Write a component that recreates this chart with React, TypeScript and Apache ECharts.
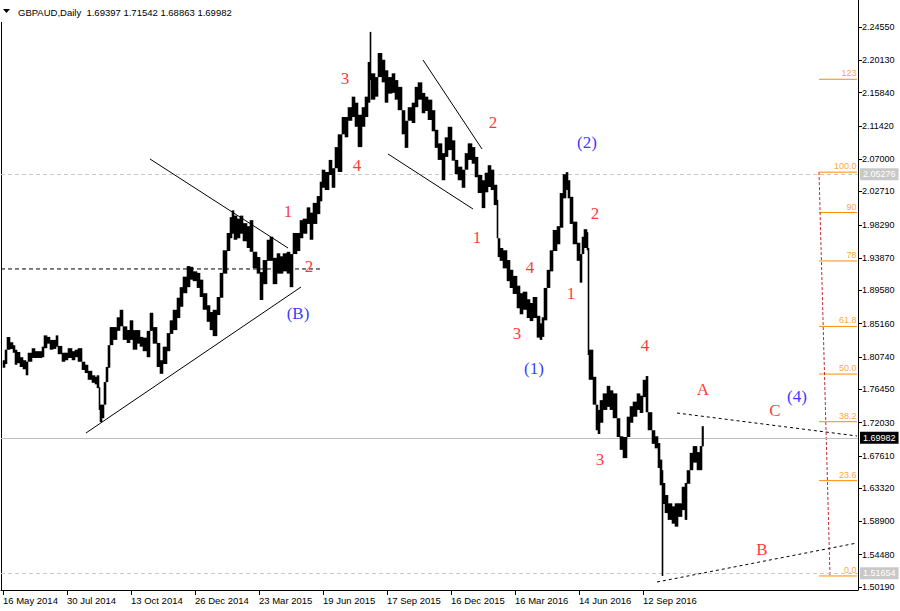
import React, { useEffect, useRef } from 'react';
import * as echarts from 'echarts';

// ---- header ----
const symbolTitle = 'GBPAUD,Daily';
const lastBarOHLC = [1.69397, 1.71542, 1.68863, 1.69982];

// ---- axes ----
const priceTicks = [2.2455, 2.2013, 2.1584, 2.1142, 2.07, 2.0271, 1.9829, 1.9387, 1.8958, 1.8516,
  1.8074, 1.7645, 1.7203, 1.6761, 1.6332, 1.589, 1.5448, 1.5019];
const dateTickIdx = [3, 67, 131, 195, 259, 323, 387, 451, 515, 579, 643];
const dateLabels = ['16 May 2014', '30 Jul 2014', '13 Oct 2014', '26 Dec 2014', '23 Mar 2015', '19 Jun 2015',
  '17 Sep 2015', '16 Dec 2015', '16 Mar 2016', '14 Jun 2016', '12 Sep 2016'];
const priceMin = 1.49789;
const priceMax = 2.28135;
const barIdxMin = 1;
const barIdxMax = 858;

// ---- price path: [bar index, high, low] ----
const priceBars: number[][] = [
  [3, 1.803, 1.793], [5, 1.814, 1.798], [7, 1.834, 1.817], [10, 1.827, 1.818], [13, 1.823, 1.813],
  [15, 1.817, 1.797], [17, 1.814, 1.799], [20, 1.807, 1.794], [23, 1.803, 1.791], [26, 1.798, 1.783],
  [28, 1.813, 1.801], [32, 1.819, 1.806], [35, 1.815, 1.806], [38, 1.815, 1.806], [42, 1.821, 1.807],
  [44, 1.836, 1.819], [47, 1.834, 1.825], [50, 1.830, 1.817], [53, 1.830, 1.818], [56, 1.836, 1.821],
  [58, 1.822, 1.811], [62, 1.813, 1.801], [65, 1.813, 1.803], [68, 1.819, 1.806], [72, 1.815, 1.803],
  [75, 1.817, 1.807], [78, 1.819, 1.807], [82, 1.801, 1.790], [85, 1.797, 1.786], [88, 1.789, 1.777],
  [92, 1.783, 1.773], [95, 1.781, 1.771], [97, 1.783, 1.766], [99, 1.767, 1.737], [100, 1.744, 1.721],
  [102, 1.744, 1.726], [104, 1.767, 1.744], [106, 1.794, 1.774], [108, 1.821, 1.793], [110, 1.847, 1.823],
  [113, 1.847, 1.830], [117, 1.860, 1.842], [120, 1.870, 1.851], [123, 1.848, 1.830], [127, 1.843, 1.826],
  [130, 1.856, 1.830], [133, 1.843, 1.817], [137, 1.843, 1.825], [140, 1.834, 1.821], [143, 1.833, 1.815],
  [147, 1.826, 1.807], [150, 1.866, 1.842], [153, 1.847, 1.825], [157, 1.826, 1.794], [160, 1.803, 1.785],
  [163, 1.821, 1.798], [167, 1.839, 1.815], [170, 1.856, 1.838], [173, 1.870, 1.843], [177, 1.886, 1.859],
  [180, 1.900, 1.874], [183, 1.914, 1.892], [187, 1.928, 1.900], [190, 1.927, 1.910], [193, 1.921, 1.908],
  [197, 1.919, 1.899], [200, 1.910, 1.887], [203, 1.892, 1.870], [207, 1.876, 1.854], [210, 1.867, 1.843],
  [213, 1.870, 1.835], [217, 1.887, 1.863], [220, 1.919, 1.886], [223, 1.949, 1.918], [227, 1.972, 1.948],
  [230, 1.993, 1.965], [232, 2.002, 1.971], [234, 1.995, 1.963], [237, 1.991, 1.965], [240, 1.995, 1.971],
  [243, 1.985, 1.961], [247, 1.981, 1.952], [250, 1.989, 1.948], [253, 1.947, 1.925], [257, 1.940, 1.918],
  [260, 1.920, 1.883], [263, 1.936, 1.904], [267, 1.963, 1.935], [270, 1.967, 1.935], [273, 1.939, 1.904],
  [277, 1.945, 1.918], [280, 1.941, 1.918], [283, 1.945, 1.921], [287, 1.947, 1.918], [290, 1.939, 1.900],
  [293, 1.972, 1.944], [297, 1.972, 1.948], [300, 1.989, 1.965], [303, 1.991, 1.971], [307, 2.006, 1.984],
  [310, 1.999, 1.963], [313, 2.012, 1.984], [317, 2.021, 1.997], [320, 2.040, 2.014], [322, 2.056, 2.032],
  [325, 2.053, 2.029], [329, 2.069, 2.049], [332, 2.056, 2.032], [335, 2.086, 2.058], [338, 2.082, 2.053],
  [342, 2.126, 2.103], [345, 2.126, 2.099], [348, 2.139, 2.121], [352, 2.153, 2.126], [355, 2.145, 2.113],
  [358, 2.129, 2.086], [362, 2.139, 2.113], [365, 2.153, 2.126], [368, 2.199, 2.145], [370, 2.239, 2.175],
  [371, 2.184, 2.149], [375, 2.179, 2.153], [378, 2.211, 2.179], [382, 2.202, 2.172], [385, 2.188, 2.145],
  [388, 2.179, 2.157], [392, 2.184, 2.158], [395, 2.175, 2.149], [398, 2.166, 2.138], [402, 2.135, 2.103],
  [405, 2.111, 2.085], [408, 2.139, 2.121], [412, 2.145, 2.118], [415, 2.166, 2.139], [418, 2.172, 2.149],
  [422, 2.158, 2.131], [425, 2.153, 2.134], [428, 2.149, 2.122], [432, 2.135, 2.107], [435, 2.109, 2.085],
  [438, 2.091, 2.069], [442, 2.078, 2.042], [445, 2.099, 2.073], [448, 2.113, 2.082], [452, 2.095, 2.068],
  [455, 2.069, 2.050], [458, 2.060, 2.042], [462, 2.052, 2.032], [465, 2.078, 2.056], [468, 2.091, 2.069],
  [472, 2.086, 2.064], [475, 2.073, 2.046], [478, 2.049, 2.025], [482, 2.042, 2.005], [485, 2.052, 2.026],
  [488, 2.062, 2.033], [491, 2.056, 2.029], [494, 2.036, 2.009], [497, 2.016, 1.980], [498, 1.965, 1.940],
  [500, 1.952, 1.935], [503, 1.949, 1.925], [507, 1.936, 1.908], [510, 1.923, 1.899], [513, 1.915, 1.891],
  [517, 1.902, 1.872], [520, 1.892, 1.864], [523, 1.894, 1.870], [527, 1.884, 1.859], [530, 1.879, 1.855],
  [533, 1.887, 1.859], [537, 1.862, 1.833], [540, 1.852, 1.830], [542, 1.860, 1.834], [544, 1.879, 1.856],
  [547, 1.923, 1.899], [550, 1.949, 1.921], [553, 1.976, 1.948], [557, 1.981, 1.957], [560, 2.025, 1.979],
  [563, 2.050, 2.018], [566, 2.05276, 2.029], [568, 2.042, 2.018], [570, 2.020, 1.984], [573, 1.987, 1.957],
  [577, 1.959, 1.935], [580, 1.939, 1.906], [582, 1.967, 1.944], [584, 1.977, 1.952], [587, 1.973, 1.949],
  [588, 1.952, 1.810], [589, 1.817, 1.777], [593, 1.781, 1.748], [596, 1.744, 1.710], [598, 1.737, 1.705],
  [600, 1.750, 1.720], [603, 1.759, 1.737], [607, 1.769, 1.741], [610, 1.763, 1.737], [613, 1.759, 1.741],
  [617, 1.726, 1.701], [620, 1.702, 1.684], [623, 1.697, 1.673], [627, 1.728, 1.701], [630, 1.742, 1.720],
  [633, 1.748, 1.728], [637, 1.759, 1.737], [640, 1.756, 1.733], [643, 1.777, 1.754], [646, 1.782, 1.758],
  [648, 1.734, 1.710], [652, 1.710, 1.692], [655, 1.702, 1.686], [658, 1.693, 1.660], [660, 1.671, 1.637],
  [662, 1.657, 1.51654], [663, 1.640, 1.612], [665, 1.624, 1.600], [668, 1.613, 1.591], [672, 1.609, 1.586],
  [675, 1.613, 1.582], [678, 1.613, 1.595], [682, 1.635, 1.604], [685, 1.640, 1.591], [687, 1.657, 1.639],
  [690, 1.680, 1.657], [693, 1.689, 1.667], [697, 1.681, 1.657], [700, 1.689, 1.657], [702, 1.71542, 1.68863],
];

// ---- horizontal price lines ----
const fibHighPrice = 2.05276;
const fibLowPrice = 1.51654;
const currentPrice = 1.69982;
const dashedLevel = { price: 1.9242, fromIdx: 1, toIdx: 323 };

// ---- fibonacci levels ----
const fibLevels = [0, 23.6, 38.2, 50, 61.8, 78, 90, 100, 123];
const fibLevelText = ['0.0', '23.6', '38.2', '50.0', '61.8', '78', '90', '100.0', '123'];
const fibFromIdx = 819;
const fibToIdx = 857;
const fibAnchorLine = [[819, 2.05276], [830, 1.51654]];

// ---- trend lines ----
const solidTrendLines = [
  [[86, 1.7064], [301, 1.9002]],
  [[150, 2.0702], [288, 1.9520]],
  [[423, 2.2017], [482, 2.0835]],
  [[388, 2.0769], [473, 2.0038]],
];
const dashedTrendLines = [
  [[677, 1.7329], [857, 1.7024]],
  [[657, 1.5085], [857, 1.5603]],
];

// ---- wave labels: [text, bar index, price] ----
const redWaveLabels: [string, number, number][] = [
  ['3', 345, 2.1765], ['4', 357, 2.0616], ['1', 288, 2.0005], ['2', 309, 1.9281],
  ['2', 493, 2.1193], ['1', 477, 1.9666], ['4', 530, 1.9255], ['3', 517, 1.8385],
  ['2', 595, 1.9972], ['1', 571, 1.8910], ['4', 645, 1.8219], ['3', 600, 1.6712],
  ['A', 703, 1.7635], ['C', 775, 1.7356], ['B', 762, 1.5523],
];
const blueWaveLabels: [string, number, number][] = [
  ['(B)', 298, 1.8644], ['(2)', 587, 2.0915], ['(1)', 534, 1.7914], ['(4)', 797, 1.7542],
];

const SANS = 'Liberation Sans, Arial, sans-serif';
const SERIF = 'Liberation Serif, Times New Roman, serif';
const ORANGE = '#ff8c00';

export default function App() {
  const ref = useRef<HTMLDivElement>(null);
  useEffect(() => {
    if (!ref.current) return;
    const chart = echarts.init(ref.current, undefined, { renderer: 'svg' });
    const fibPrice = (lv: number) => fibLowPrice + (fibHighPrice - fibLowPrice) * lv / 100;

    const series: any[] = [];

    series.push({
      type: 'line',
      silent: true,
      symbol: 'none',
      z: 2,
      data: [[dashedLevel.fromIdx, dashedLevel.price], [dashedLevel.toIdx, dashedLevel.price]],
      lineStyle: { color: '#000', width: 1, type: [4, 3] },
      markLine: {
        silent: true,
        symbol: ['none', 'none'],
        animation: false,
        data: [
          {
            yAxis: fibHighPrice,
            lineStyle: { color: '#c8c8c8', width: 1, type: [4, 3] },
            label: { show: true, position: 'end', distance: 2, formatter: () => fibHighPrice.toFixed(5), color: '#fff', backgroundColor: '#c8c8c8', padding: [2, 3, 1, 3], fontSize: 9, fontFamily: SANS },
          },
          {
            yAxis: fibLowPrice,
            lineStyle: { color: '#c8c8c8', width: 1, type: [4, 3] },
            label: { show: true, position: 'end', distance: 2, formatter: () => fibLowPrice.toFixed(5), color: '#fff', backgroundColor: '#c8c8c8', padding: [2, 3, 1, 3], fontSize: 9, fontFamily: SANS },
          },
          {
            yAxis: currentPrice,
            lineStyle: { color: '#c0c0c0', width: 1, type: 'solid' },
            label: { show: true, position: 'end', distance: 2, formatter: () => currentPrice.toFixed(5), color: '#fff', backgroundColor: '#000', padding: [2, 3, 1, 3], fontSize: 9, fontFamily: SANS },
          },
        ],
      },
    });

    solidTrendLines.forEach((seg) => series.push({
      type: 'line', silent: true, symbol: 'none', z: 3, data: seg,
      lineStyle: { color: '#000', width: 1 },
    }));
    dashedTrendLines.forEach((seg) => series.push({
      type: 'line', silent: true, symbol: 'none', z: 3, data: seg,
      lineStyle: { color: '#000', width: 1, type: [3, 3] },
    }));

    fibLevels.forEach((lv) => series.push({
      type: 'line', silent: true, symbol: 'none', z: 3,
      data: [[fibFromIdx, fibPrice(lv)], [fibToIdx, fibPrice(lv)]],
      lineStyle: { color: ORANGE, width: 1 },
    }));
    series.push({
      type: 'scatter', silent: true, z: 4, symbolSize: 1,
      itemStyle: { color: 'transparent' },
      data: fibLevels.map((lv, i) => ({ value: [fibToIdx, fibPrice(lv)], name: fibLevelText[i] })),
      label: { show: true, position: [0, -1], align: 'right', verticalAlign: 'bottom', formatter: '{b}', color: ORANGE, fontSize: 9, fontFamily: SANS },
    });
    series.push({
      type: 'line', silent: true, symbol: 'none', z: 3, data: fibAnchorLine,
      lineStyle: { color: '#c0282d', width: 1, type: [3, 2] },
    });

    // price bars: each sample covers its span up to the next sample; ranges are
    // stretched to touch the next sample so that the band stays continuous
    series.push({
      type: 'custom',
      silent: true,
      z: 5,
      data: priceBars,
      encode: { x: 0, y: [1, 2] },
      renderItem: (params: any, api: any) => {
        const i = params.dataIndex;
        const x = api.value(0);
        let hi = api.value(1);
        let lo = api.value(2);
        const next = i + 1 < priceBars.length ? priceBars[i + 1] : null;
        const nx = next ? next[0] : x + 1.5;
        if (next && next[0] - x <= 4) {
          if (next[2] > hi) hi = next[2];
          if (next[1] < lo) lo = next[1];
        }
        const p1 = api.coord([x, hi]);
        const p2 = api.coord([nx, lo]);
        const w = Math.max(1, p2[0] - p1[0] + 0.6);
        return {
          type: 'rect',
          shape: { x: p1[0] - 0.3, y: p1[1], width: w, height: Math.max(1, p2[1] - p1[1]) },
          style: { fill: '#000' },
        };
      },
    });

    const waveSeries = (list: [string, number, number][], color: string) => ({
      type: 'scatter', silent: true, z: 6, symbolSize: 1,
      itemStyle: { color: 'transparent' },
      data: list.map(([t, x, p]) => ({ value: [x, p], name: t })),
      label: { show: true, position: 'inside', formatter: '{b}', color, fontSize: 17, fontFamily: SERIF },
    });
    series.push(waveSeries(redWaveLabels, '#ff0000'));
    series.push(waveSeries(blueWaveLabels, '#0000ff'));

    const option: any = {
      animation: false,
      backgroundColor: '#ffffff',
      grid: { left: 1, right: 42, top: 0, bottom: 21, containLabel: false },
      xAxis: {
        type: 'value',
        min: barIdxMin,
        max: barIdxMax,
        axisLine: { show: true, onZero: false, lineStyle: { color: '#000', width: 1 } },
        axisTick: { show: true, length: 5, customValues: dateTickIdx, lineStyle: { color: '#000' } },
        axisLabel: {
          show: true,
          customValues: dateTickIdx,
          formatter: (v: number) => {
            const k = dateTickIdx.indexOf(Math.round(v));
            return k >= 0 ? dateLabels[k] : '';
          },
          align: 'left',
          margin: 5,
          color: '#000',
          fontSize: 9.5,
          fontFamily: SANS,
        },
        splitLine: { show: false },
      },
      yAxis: {
        type: 'value',
        position: 'right',
        min: priceMin,
        max: priceMax,
        axisLine: { show: true, onZero: false, lineStyle: { color: '#000', width: 1 } },
        axisTick: { show: true, length: 4, customValues: priceTicks, lineStyle: { color: '#000' } },
        axisLabel: {
          show: true,
          customValues: priceTicks,
          formatter: (v: number) => v.toFixed(5),
          margin: 4,
          color: '#000',
          fontSize: 9,
          fontFamily: SANS,
        },
        splitLine: { show: false },
      },
      graphic: [
        { type: 'line', silent: true, shape: { x1: 1.5, y1: 22, x2: 1.5, y2: 590 }, style: { stroke: '#000', lineWidth: 1 } },
        { type: 'polygon', silent: true, shape: { points: [[3, 9], [10, 9], [6.5, 13]] }, style: { fill: '#000' } },
        {
          type: 'text', silent: true, x: 18, y: 12,
          style: {
            text: symbolTitle + '  ' + lastBarOHLC.map((v) => v.toFixed(5)).join(' '),
            fill: '#000', font: '9.5px ' + SANS, verticalAlign: 'middle',
          },
        },
      ],
      series,
    };
    chart.setOption(option);
    return () => chart.dispose();
  }, []);
  return (
    <div
      ref={ref}
      style={{ position: 'fixed', left: 0, top: 0, width: 900, height: 611, background: '#fff' }}
    />
  );
}
